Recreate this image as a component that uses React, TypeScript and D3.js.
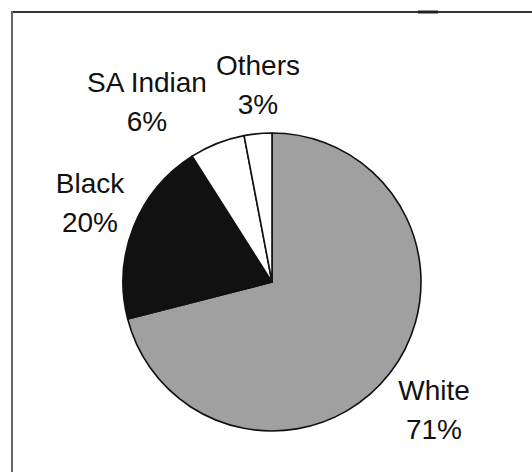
import React from "react";
import * as d3 from "d3";

const categories = ["White", "Black", "SA Indian", "Others"];
const values = [71, 20, 6, 3];
const fills = ["#a0a0a0", "#111111", "#ffffff", "#ffffff"];
const labelLines = [
  ["White", "71%"],
  ["Black", "20%"],
  ["SA Indian", "6%"],
  ["Others", "3%"],
];

const W = 532;
const H = 472;
const cx = 272;
const cy = 282;
const R = 149;

export default function App() {
  const pie = d3.pie<number>().sort(null).value((d) => d);
  const arcs = pie(values);
  const arc = d3.arc<d3.PieArcDatum<number>>().innerRadius(0).outerRadius(R);
  // label positions (centres) tuned from the reference
  const labelPos: [number, number][] = [
    [434, 400],
    [90, 193],
    [147, 92],
    [258, 75],
  ];
  return (
    <svg
      width={W}
      height={H}
      style={{ position: "absolute", left: 0, top: 0, background: "#fff" }}
    >
      <line x1={12} y1={12} x2={W} y2={12} stroke="#333" strokeWidth={2} />
      <line x1={418} y1={12} x2={438} y2={12} stroke="#222" strokeWidth={3} />
      <line x1={12} y1={11} x2={12} y2={H} stroke="#666" strokeWidth={2} />
      <g transform={`translate(${cx},${cy})`}>
        {arcs.map((a, i) => (
          <path
            key={categories[i]}
            d={arc(a) || ""}
            fill={fills[i]}
            stroke="#111"
            strokeWidth={1.6}
            strokeLinejoin="round"
          />
        ))}
      </g>
      {arcs.map((a, i) => {
        const [x, y] = labelPos[i];
        return (
          <text
            key={"l" + i}
            x={x}
            y={y}
            textAnchor="middle"
            fontFamily="Liberation Sans, Arial, sans-serif"
            fontSize={28}
            fill="#111"
          >
            <tspan x={x} dy={0}>{labelLines[i][0]}</tspan>
            <tspan x={x} dy={39}>{labelLines[i][1]}</tspan>
          </text>
        );
      })}
    </svg>
  );
}
